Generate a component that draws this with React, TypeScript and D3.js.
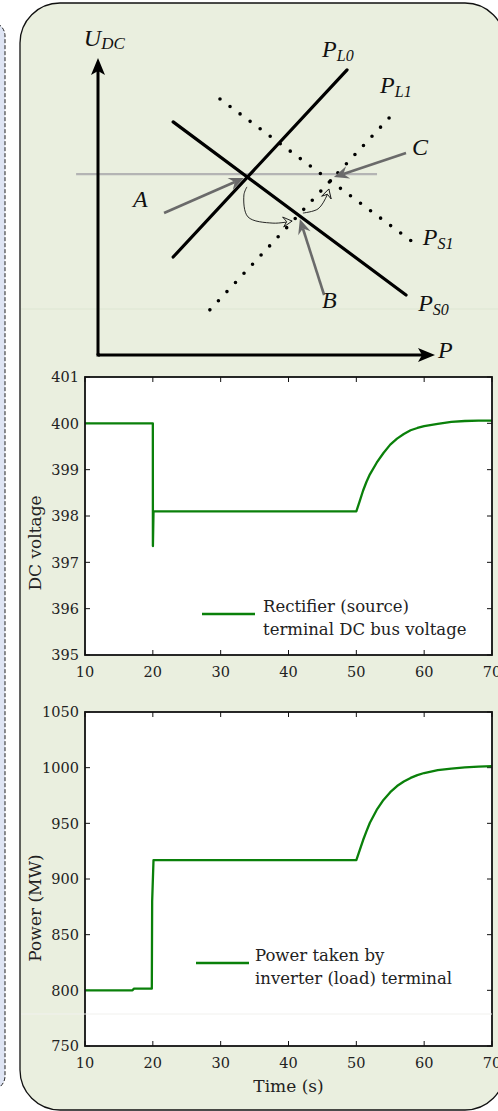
import React from "react";
import * as d3 from "d3";

// ---- time series ----
const voltageTime = [10, 20, 20.01, 20.1, 30, 40, 50, 50.5, 51, 51.5, 52, 53, 54, 55, 56, 57, 58, 59, 60, 62, 64, 66, 68, 70];
const voltageValue = [400, 400, 397.35, 398.1, 398.1, 398.1, 398.1, 398.32, 398.55, 398.74, 398.9, 399.15, 399.36, 399.54, 399.67, 399.77, 399.85, 399.9, 399.94, 399.99, 400.03, 400.05, 400.06, 400.06];

const powerTime = [10, 17, 17.2, 19.85, 19.9, 20.1, 30, 40, 50, 50.5, 51, 51.5, 52, 53, 54, 55, 56, 57, 58, 59, 60, 62, 64, 66, 68, 70];
const powerValue = [800, 800, 801.5, 801.5, 880, 917, 917, 917, 917, 926, 935, 943, 950.5, 962, 971, 978, 983.5, 987.5, 990.8, 993.3, 995.2, 997.8, 999.2, 1000.2, 1000.9, 1001.3];

const timeTicks = [10, 20, 30, 40, 50, 60, 70];
const voltageTicks = [395, 396, 397, 398, 399, 400, 401];
const powerTicks = [750, 800, 850, 900, 950, 1000, 1050];

// ---- schematic, in its own 0..10 units (P across, U_DC up) ----
const lineL0 = [[2.23, 3.3], [7.39, 9.6]];
const lineS0 = [[2.23, 7.85], [9.14, 2.02]];
const lineS1 = [[3.62, 8.62], [9.38, 3.77]];
const lineL1 = [[3.32, 1.52], [8.72, 8.08]];
const refLine = [[-0.65, 6.09], [8.28, 6.09]];
const arrowA = [[1.96, 4.78], [4.33, 5.96]];
const arrowB = [[6.71, 2.02], [5.99, 4.58]];
const arrowC = [[9.14, 6.8], [7.0, 5.99]];
const pathAB = [[4.42, 5.66], [4.33, 5.39], [4.45, 4.65], [5.19, 4.44], [5.76, 4.51]];
const pathBC = [[6.08, 4.78], [6.53, 4.92], [6.8, 5.39], [6.85, 5.59]];

const W = 498;
const H = 1111;
const plotLeft = 85;
const plotRight = 492;
const panelFill = "#eaefdf";
const green = "#0a800a";
const tickFont = "DejaVu Serif";
const labelFont = "Liberation Serif";

const dx = d3.scaleLinear().domain([0, 10]).range([98, 435]);
const dy = d3.scaleLinear().domain([0, 10]).range([355, 58]);
const toPx = (p: number[]) => [dx(p[0]), dy(p[1])];
const seg = d3.line<number[]>().x((d) => dx(d[0])).y((d) => dy(d[1]));
const smooth = d3
  .line<number[]>()
  .x((d) => dx(d[0]))
  .y((d) => dy(d[1]))
  .curve(d3.curveCatmullRom.alpha(0.5));

const Head = ({ tip, from, d, fill, stroke, sw }: any) => {
  const ang = (Math.atan2(tip[1] - from[1], tip[0] - from[0]) * 180) / Math.PI;
  return (
    <path
      d={d}
      transform={`translate(${tip[0]},${tip[1]}) rotate(${ang})`}
      fill={fill}
      stroke={stroke || "none"}
      strokeWidth={sw || 0}
    />
  );
};

const Arrow = ({ pts, color, width, head, inset }: any) => {
  const a = toPx(pts[0]);
  const b = toPx(pts[1]);
  const len = Math.hypot(b[0] - a[0], b[1] - a[1]);
  const ux = (b[0] - a[0]) / len;
  const uy = (b[1] - a[1]) / len;
  const e = [b[0] - ux * inset, b[1] - uy * inset];
  return (
    <g>
      <line x1={a[0]} y1={a[1]} x2={e[0]} y2={e[1]} stroke={color} strokeWidth={width} />
      <Head tip={b} from={a} d={head} fill={color} />
    </g>
  );
};

const Label = ({ at, main, sub, size = 24, subSize = 16, shift = 4 }: any) => {
  const p = toPx(at);
  return (
    <text x={p[0]} y={p[1]} fontFamily={labelFont} fontStyle="italic" fontSize={size} fill="#111">
      {main}
      {sub && (
        <tspan fontSize={subSize} dy={shift}>
          {sub}
        </tspan>
      )}
    </text>
  );
};

const Diagram = () => {
  const bigHead = "M0,0 L-17,-7 L-13,0 L-17,7 Z";
  const grayHead = "M0,0 L-15,-6.5 L-10,0 L-15,6.5 Z";
  const openHead = "M0,0 L-9,-5 L-5.5,0 L-9,5 Z";
  const ab = pathAB.map(toPx);
  const bc = pathBC.map(toPx);
  return (
    <g>
      <path d={seg(refLine)!} stroke="#b4b4b4" strokeWidth={2.2} />
      <Arrow pts={[[0, 0], [0, 10]]} color="#000" width={3} head={bigHead} inset={13} />
      <Arrow pts={[[0, 0], [10, 0]]} color="#000" width={3} head={bigHead} inset={13} />
      <line x1={dx(0) - 1.5} y1={dy(0)} x2={dx(0) + 2} y2={dy(0)} stroke="#000" strokeWidth={3} />
      <path d={seg(lineL0)!} stroke="#000" strokeWidth={3.2} strokeLinecap="round" />
      <path d={seg(lineS0)!} stroke="#000" strokeWidth={3.2} strokeLinecap="round" />
      <path d={seg(lineS1)!} stroke="#000" strokeWidth={3.6} strokeLinecap="round" strokeDasharray="0 12.5" />
      <path d={seg(lineL1)!} stroke="#000" strokeWidth={3.6} strokeLinecap="round" strokeDasharray="0 12.5" />
      <path d={smooth(pathAB)!} fill="none" stroke="#111" strokeWidth={0.9} />
      <Head tip={ab[ab.length - 1]} from={ab[ab.length - 2]} d={openHead} fill={panelFill} stroke="#111" sw={0.9} />
      <path d={smooth(pathBC)!} fill="none" stroke="#111" strokeWidth={0.9} />
      <Head tip={bc[bc.length - 1]} from={bc[bc.length - 2]} d={openHead} fill={panelFill} stroke="#111" sw={0.9} />
      <Arrow pts={arrowA} color="#6a6a6a" width={2.6} head={grayHead} inset={10} />
      <Arrow pts={arrowB} color="#6a6a6a" width={2.6} head={grayHead} inset={10} />
      <Arrow pts={arrowC} color="#6a6a6a" width={2.6} head={grayHead} inset={10} />
      <Label at={[-0.42, 10.4]} main="U" sub="DC" subSize={17} shift={3} />
      <Label at={[10.09, -0.1]} main="P" />
      <Label at={[6.65, 10.03]} main="P" sub="L0" />
      <Label at={[8.37, 8.82]} main="P" sub="L1" />
      <Label at={[9.64, 3.7]} main="P" sub="S1" />
      <Label at={[9.5, 1.48]} main="P" sub="S0" />
      <Label at={[9.32, 6.73]} main="C" />
      <Label at={[6.65, 1.58]} main="B" />
      <Label at={[1.04, 4.98]} main="A" />
    </g>
  );
};

const TimePlot = ({ top, bottom, yDomain, yTicks, time, values, yLabel, yLabelY, legend, legendY, legendX0, legendX1, legendTextX }: any) => {
  const x = d3.scaleLinear().domain([10, 70]).range([plotLeft, plotRight]);
  const y = d3.scaleLinear().domain(yDomain).range([bottom, top]);
  const line = d3
    .line<number>()
    .x((_, i) => x(time[i]))
    .y((d) => y(d));
  const tl = 5;
  return (
    <g>
      <rect x={plotLeft} y={top} width={plotRight - plotLeft} height={bottom - top} fill="#fff" />
      {timeTicks.map((t) => (
        <g key={t}>
          <line x1={x(t)} x2={x(t)} y1={bottom} y2={bottom - tl} stroke="#111" strokeWidth={1} />
          <line x1={x(t)} x2={x(t)} y1={top} y2={top + tl} stroke="#111" strokeWidth={1} />
          <text x={x(t)} y={bottom + 22} textAnchor="middle" fontFamily={tickFont} fontSize={14.5} fill="#222">
            {t}
          </text>
        </g>
      ))}
      {yTicks.map((v: number) => (
        <g key={v}>
          <line x1={plotLeft} x2={plotLeft + tl} y1={y(v)} y2={y(v)} stroke="#111" strokeWidth={1} />
          <line x1={plotRight} x2={plotRight - tl} y1={y(v)} y2={y(v)} stroke="#111" strokeWidth={1} />
          <text x={plotLeft - 6} y={y(v)} dy="0.36em" textAnchor="end" fontFamily={tickFont} fontSize={14.5} fill="#222">
            {v}
          </text>
        </g>
      ))}
      <path d={line(values)!} fill="none" stroke={green} strokeWidth={2.3} strokeLinejoin="round" />
      <rect x={plotLeft} y={top} width={plotRight - plotLeft} height={bottom - top} fill="none" stroke="#111" strokeWidth={1.8} />
      <text
        transform={`translate(41,${yLabelY}) rotate(-90)`}
        textAnchor="middle"
        fontFamily={tickFont}
        fontSize={17}
        fill="#222"
      >
        {yLabel}
      </text>
      <line x1={legendX0} x2={legendX1} y1={legendY} y2={legendY} stroke={green} strokeWidth={2.5} />
      {legend.map((s: string, i: number) => (
        <text key={s} x={legendTextX} y={legendY - 2 + i * 23} fontFamily={tickFont} fontSize={16.5} fill="#222">
          {s}
        </text>
      ))}
    </g>
  );
};

export default function App() {
  return (
    <svg width={W} height={H} style={{ position: "absolute", left: 0, top: 0 }}>
      <rect x={0} y={0} width={W} height={H} fill="#fff" />
      <rect x={-100} y={22} width={105} height={1068} rx={14} fill="#dfe5f4" stroke="#222" strokeWidth={1} strokeDasharray="4 2" />
      <rect x={20} y={3} width={485} height={1107} rx={40} fill={panelFill} stroke="#111" strokeWidth={1.3} />
      <line x1={21} x2={498} y1={309} y2={309} stroke="#dde6d2" strokeWidth={1} />
      <Diagram />
      <TimePlot
        top={377}
        bottom={655}
        yDomain={[395, 401]}
        yTicks={voltageTicks}
        time={voltageTime}
        values={voltageValue}
        yLabel="DC voltage"
        yLabelY={543}
        legend={["Rectifier (source)", "terminal DC bus voltage"]}
        legendY={614}
        legendX0={202}
        legendX1={255}
        legendTextX={263}
      />
      <TimePlot
        top={712}
        bottom={1046}
        yDomain={[750, 1050]}
        yTicks={powerTicks}
        time={powerTime}
        values={powerValue}
        yLabel="Power (MW)"
        yLabelY={908}
        legend={["Power taken by", "inverter (load) terminal"]}
        legendY={963}
        legendX0={196}
        legendX1={249}
        legendTextX={255}
      />
      <line x1={21} x2={plotRight} y1={1014} y2={1014} stroke="#f1f1ee" strokeWidth={1} />
      <text x={(plotLeft + plotRight) / 2} y={1092} textAnchor="middle" fontFamily={tickFont} fontSize={17} fill="#222">
        Time (s)
      </text>
    </svg>
  );
}
